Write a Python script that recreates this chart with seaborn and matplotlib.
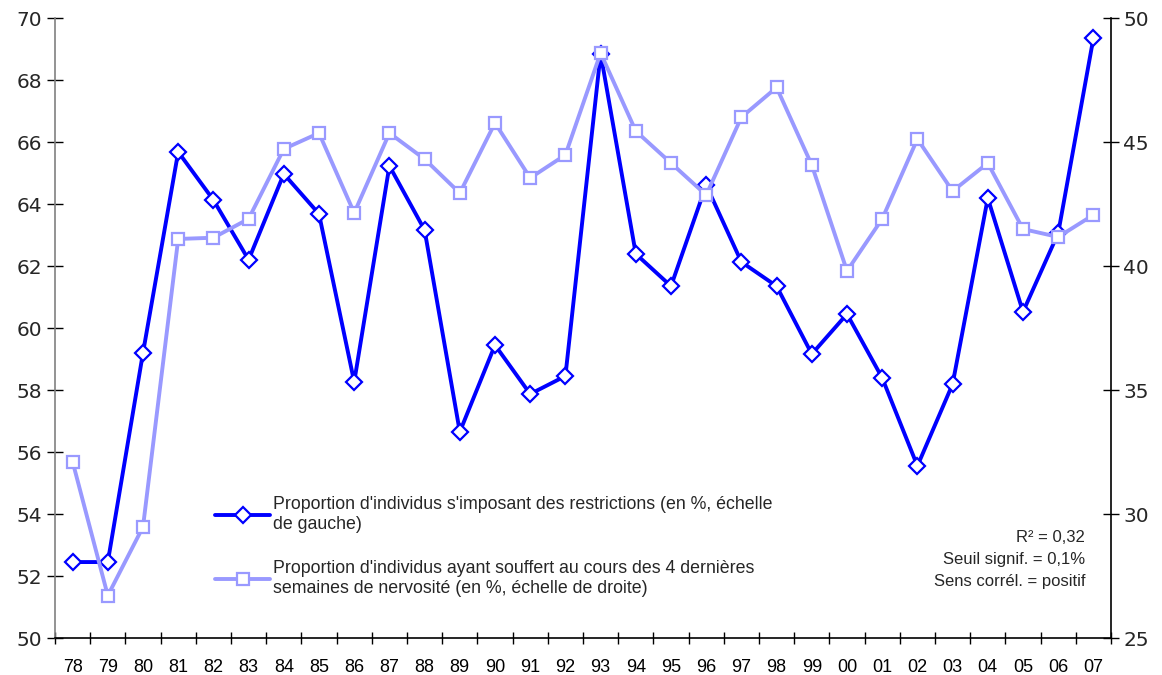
import numpy as np
import pandas as pd
import matplotlib
matplotlib.use("Agg")
import matplotlib.pyplot as plt
from matplotlib.lines import Line2D
from matplotlib.ticker import FixedLocator, MultipleLocator
import seaborn as sns

# Years (two-digit labels) and the two series
years = ["78", "79", "80", "81", "82", "83", "84", "85", "86", "87",
         "88", "89", "90", "91", "92", "93", "94", "95", "96", "97",
         "98", "99", "00", "01", "02", "03", "04", "05", "06", "07"]

restrictions = [52.45, 52.45, 59.2, 65.68, 64.13, 62.2, 64.97, 63.68, 58.26, 65.23,
                63.16, 56.65, 59.45, 57.87, 58.45, 68.85, 62.39, 61.35, 64.61, 62.13,
                61.35, 59.16, 60.45, 58.39, 55.55, 58.19, 64.19, 60.52, 63.06, 69.35]

nervosite = [32.11, 26.71, 29.48, 41.09, 41.14, 41.9, 44.72, 45.36, 42.14, 45.36,
             44.31, 42.94, 45.77, 43.55, 44.48, 48.59, 45.44, 44.15, 42.86, 46.0,
             47.2, 44.07, 39.8, 41.9, 45.12, 43.02, 44.15, 41.49, 41.17, 42.06]

label_restr = "Proportion d'individus s'imposant des restrictions (en %, échelle\nde gauche)"
label_nerv = ("Proportion d'individus ayant souffert au cours des 4 dernières\n"
              "semaines de nervosité (en %, échelle de droite)")
stats_text = "R² = 0,32\nSeuil signif. = 0,1%\nSens corrél. = positif"

dark_blue = "#0000FF"
light_blue = "#9999FF"

sns.set_theme(style="white")
plt.rcParams["font.family"] = ["DejaVu Sans"]

df = pd.DataFrame({"pos": np.arange(len(years)), "year": years,
                   "restr": restrictions, "nerv": nervosite})

fig = plt.figure(figsize=(11.62, 6.75), dpi=100)
ax = fig.add_axes([55 / 1162, 1 - 638 / 675, (1111 - 55) / 1162, (638 - 18) / 675])
ax2 = ax.twinx()

sns.lineplot(data=df, x="pos", y="restr", ax=ax, color=dark_blue, linewidth=2.8,
             marker="D", markersize=8, markerfacecolor="white",
             markeredgecolor=dark_blue, markeredgewidth=1.6, sort=False)
sns.lineplot(data=df, x="pos", y="nerv", ax=ax2, color=light_blue, linewidth=2.8,
             marker="s", markersize=8.5, markerfacecolor="white",
             markeredgecolor=light_blue, markeredgewidth=1.6, sort=False)

ax.set_xlim(-0.5, len(years) - 0.5)
ax.set_ylim(50, 70)
ax2.set_ylim(25, 50)
ax.yaxis.set_major_locator(MultipleLocator(2))
ax2.yaxis.set_major_locator(MultipleLocator(5))

ax.set_xticks(df["pos"])
ax.set_xticklabels(years, fontfamily="Liberation Sans", fontsize=13)
ax.xaxis.set_minor_locator(FixedLocator(np.arange(-0.5, len(years), 1.0)))
ax.tick_params(axis="x", which="major", length=0, pad=15, colors="#000000")
ax.tick_params(axis="x", which="minor", direction="inout", length=9, width=1,
               color="#000000", bottom=True)

ax.tick_params(axis="y", which="major", direction="inout", length=12, width=1,
               labelsize=14.5, pad=3, color="#000000", left=True)
ax2.tick_params(axis="y", which="major", direction="inout", length=12, width=1,
                labelsize=14.5, pad=3, color="#000000", right=True)

for a in (ax, ax2):
    a.set_xlabel("")
    a.set_ylabel("")
    a.grid(False)
    a.spines["top"].set_visible(False)
ax.spines["right"].set_visible(False)
ax2.spines["left"].set_visible(False)
ax2.spines["bottom"].set_visible(False)
ax.spines["left"].set_color("#808080")
ax.spines["bottom"].set_color("#000000")
ax2.spines["right"].set_color("#000000")
for s in (ax.spines["left"], ax.spines["bottom"], ax2.spines["right"]):
    s.set_linewidth(1.2)

handles = [
    Line2D([], [], color=dark_blue, linewidth=2.8, marker="D", markersize=8,
           markerfacecolor="white", markeredgecolor=dark_blue, markeredgewidth=1.6),
    Line2D([], [], color=light_blue, linewidth=2.8, marker="s", markersize=8.5,
           markerfacecolor="white", markeredgecolor=light_blue, markeredgewidth=1.6),
]
leg = ax2.legend(handles, [label_restr, label_nerv], loc="upper left",
                 bbox_to_anchor=(215 / 1162, 1 - 496 / 675), bbox_transform=fig.transFigure,
                 frameon=False, prop={"family": "Liberation Sans", "size": 12.8},
                 handlelength=3.1, handletextpad=0.18, labelspacing=1.55,
                 borderpad=0, borderaxespad=0)

fig.text(1085 / 1162, 1 - 530 / 675, stats_text, ha="right", va="top",
         fontfamily="Liberation Sans", fontsize=12, linespacing=1.6)

fig.savefig("out.png", dpi=100, facecolor="white")
